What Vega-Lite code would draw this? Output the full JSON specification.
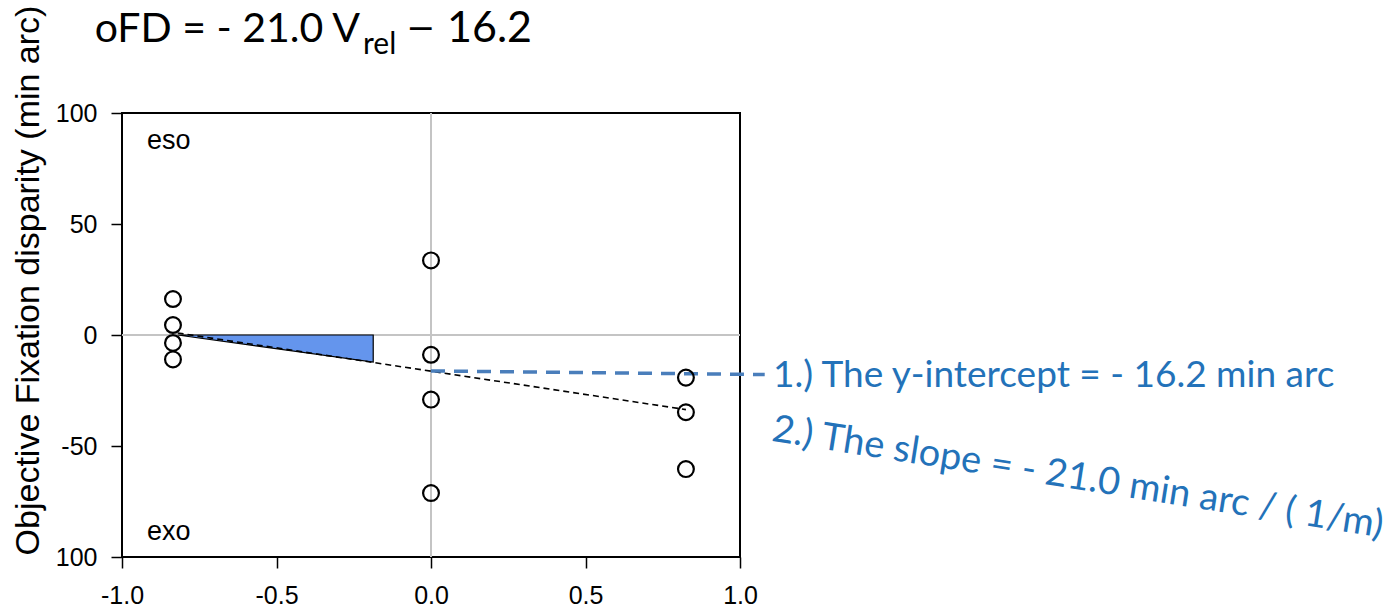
{
  "$schema": "https://vega.github.io/schema/vega-lite/v6.json",
  "width": 618,
  "height": 444,
  "autosize": {"type": "none"},
  "padding": {"left": 122, "top": 113, "right": 651, "bottom": 53},
  "background": "white",
  "config": {
    "view": {"stroke": "black", "strokeWidth": 2},
    "axis": {
      "grid": false,
      "domain": false,
      "tickColor": "black",
      "tickWidth": 1.5,
      "tickSize": 11,
      "labelFont": "Liberation Sans",
      "labelFontSize": 25,
      "labelColor": "black",
      "labelFlush": false,
      "labelOverlap": false
    }
  },
  "layer": [
    {
      "data": {"values": [{"x": 0}]},
      "mark": {"type": "rule", "color": "#c4c4c4", "strokeWidth": 2},
      "encoding": {
        "x": {
          "field": "x",
          "type": "quantitative",
          "scale": {"domain": [-1, 1], "nice": false, "zero": false},
          "axis": {
            "values": [-1, -0.5, 0, 0.5, 1],
            "format": ".1f",
            "labelExpr": "replace(datum.label, '\u2212', '-')",
            "labelFontSize": 25,
            "labelPadding": 15,
            "labelFlush": false,
            "title": null
          }
        }
      }
    },
    {
      "data": {"values": [{"y": 0}]},
      "mark": {"type": "rule", "color": "#c4c4c4", "strokeWidth": 2},
      "encoding": {
        "y": {
          "field": "y",
          "type": "quantitative",
          "scale": {"domain": [-100, 100], "nice": false, "zero": false},
          "axis": {
            "values": [-100, -50, 0, 50, 100],
            "labelExpr": "datum.value == -100 ? '100' : replace(datum.label, '\u2212', '-')",
            "labelFontSize": 25,
            "labelPadding": 14,
            "labelFlush": false,
            "title": "Objective Fixation disparity (min arc)",
            "titleFont": "Liberation Sans",
            "titleFontSize": 34,
            "titleFontWeight": "normal",
            "titleColor": "black",
            "titleX": -84,
            "titleY": 167,
            "titleAlign": "center",
            "titleBaseline": "alphabetic",
            "titleAngle": 270
          }
        }
      }
    },
    {
      "data": {"values": [
        {"x": -0.82, "y": 0, "y2": 0},
        {"x": -0.187, "y": -12.2, "y2": 0}
      ]},
      "mark": {"type": "area", "color": "#6495ED", "opacity": 1, "stroke": "black", "strokeWidth": 1.2},
      "encoding": {
        "x": {"field": "x", "type": "quantitative"},
        "y": {"field": "y", "type": "quantitative"},
        "y2": {"field": "y2"}
      }
    },
    {
      "data": {"values": [
        {"x": -0.82, "y": 0.9},
        {"x": 0.825, "y": -33.6}
      ]},
      "mark": {"type": "line", "color": "black", "strokeWidth": 1.6, "strokeDash": [6, 4]},
      "encoding": {
        "x": {"field": "x", "type": "quantitative"},
        "y": {"field": "y", "type": "quantitative"}
      }
    },
    {
      "data": {"values": [
        {"x": 0, "y": -16.2},
        {"x": 1.08, "y": -17.8}
      ]},
      "mark": {"type": "line", "color": "#4A7EBB", "strokeWidth": 3.5, "strokeDash": [14, 9], "clip": false},
      "encoding": {
        "x": {"field": "x", "type": "quantitative"},
        "y": {"field": "y", "type": "quantitative"}
      }
    },
    {
      "data": {"values": [
        {"x": -0.835, "y": 16.2},
        {"x": -0.835, "y": 4.5},
        {"x": -0.835, "y": -3.6},
        {"x": -0.835, "y": -11.0},
        {"x": 0, "y": 33.6},
        {"x": 0, "y": -8.9},
        {"x": 0, "y": -29.1},
        {"x": 0, "y": -71.2},
        {"x": 0.825, "y": -19.2},
        {"x": 0.825, "y": -34.8},
        {"x": 0.825, "y": -60.4}
      ]},
      "mark": {"type": "point", "shape": "circle", "filled": false, "stroke": "black", "strokeWidth": 2.2, "size": 250, "opacity": 1},
      "encoding": {
        "x": {"field": "x", "type": "quantitative"},
        "y": {"field": "y", "type": "quantitative"}
      }
    },
    {
      "data": {"values": [
        {"x": -0.919, "y": 87.5, "t": "eso"},
        {"x": -0.919, "y": -88.6, "t": "exo"}
      ]},
      "mark": {"type": "text", "align": "left", "baseline": "middle", "font": "Liberation Sans", "fontSize": 27, "color": "black", "clip": false},
      "encoding": {
        "x": {"field": "x", "type": "quantitative"},
        "y": {"field": "y", "type": "quantitative"},
        "text": {"field": "t"}
      }
    },
    {
      "data": {"values": [
        {"x": -0.2298, "y": 132.1, "t": "oFD = - 21.0 V"}
      ]},
      "mark": {"type": "text", "align": "right", "baseline": "alphabetic", "font": "Lato", "fontSize": 41, "color": "black", "clip": false},
      "encoding": {
        "x": {"field": "x", "type": "quantitative"},
        "y": {"field": "y", "type": "quantitative"},
        "text": {"field": "t"}
      }
    },
    {
      "data": {"values": [
        {"x": -0.22, "y": 126.7, "t": "rel"}
      ]},
      "mark": {"type": "text", "align": "left", "baseline": "alphabetic", "font": "Lato", "fontSize": 30, "color": "black", "clip": false},
      "encoding": {
        "x": {"field": "x", "type": "quantitative"},
        "y": {"field": "y", "type": "quantitative"},
        "text": {"field": "t"}
      }
    },
    {
      "data": {"values": [
        {"x": -0.0744, "y": 134.0, "t": "—"}
      ]},
      "mark": {"type": "text", "align": "left", "baseline": "alphabetic", "font": "Lato", "fontSize": 32, "fontWeight": "bold", "color": "black", "clip": false},
      "encoding": {
        "x": {"field": "x", "type": "quantitative"},
        "y": {"field": "y", "type": "quantitative"},
        "text": {"field": "t"}
      }
    },
    {
      "data": {"values": [
        {"x": 0.0518, "y": 132.1, "t": "16.2"}
      ]},
      "mark": {"type": "text", "align": "left", "baseline": "alphabetic", "font": "Lato", "fontSize": 43, "color": "black", "clip": false},
      "encoding": {
        "x": {"field": "x", "type": "quantitative"},
        "y": {"field": "y", "type": "quantitative"},
        "text": {"field": "t"}
      }
    },
    {
      "data": {"values": [
        {"x": 1.107, "y": -23.3, "t": "1.) The y-intercept = - 16.2 min arc"}
      ]},
      "mark": {"type": "text", "align": "left", "baseline": "alphabetic", "font": "Lato", "fontSize": 37, "color": "#2372B9", "clip": false},
      "encoding": {
        "x": {"field": "x", "type": "quantitative"},
        "y": {"field": "y", "type": "quantitative"},
        "text": {"field": "t"}
      }
    },
    {
      "data": {"values": [
        {"x": 1.0995, "y": -47.6, "t": "2.) The slope = - 21.0 min arc / ( 1/m)"}
      ]},
      "mark": {"type": "text", "align": "left", "baseline": "alphabetic", "font": "Lato", "fontSize": 38, "angle": 9, "color": "#2372B9", "clip": false},
      "encoding": {
        "x": {"field": "x", "type": "quantitative"},
        "y": {"field": "y", "type": "quantitative"},
        "text": {"field": "t"}
      }
    }
  ]
}
